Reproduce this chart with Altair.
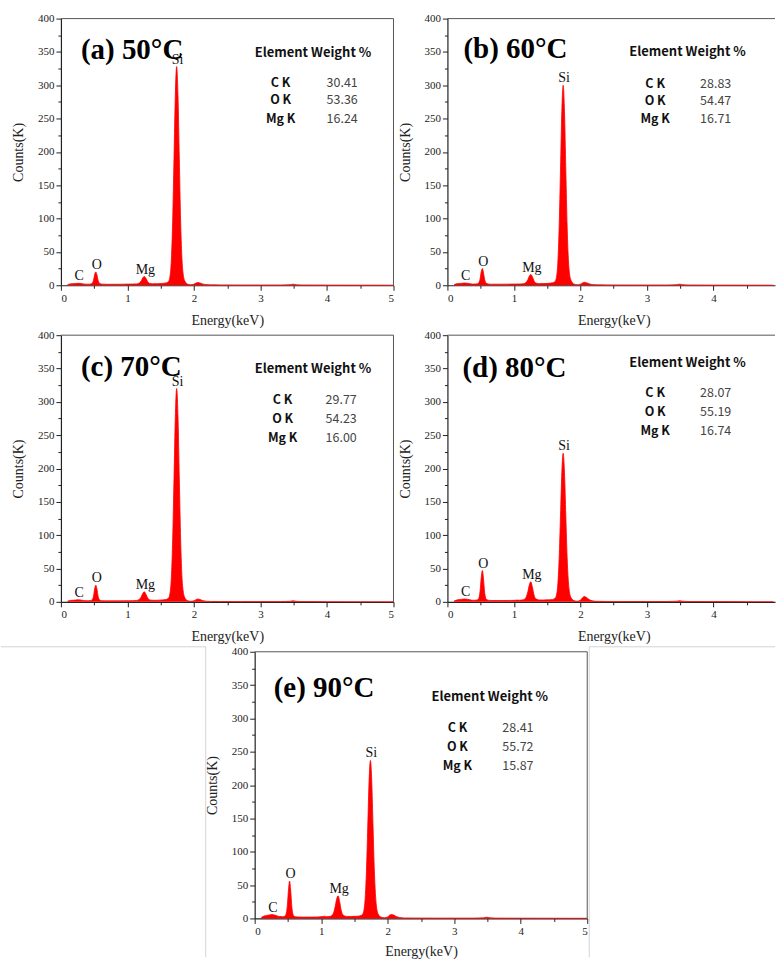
import altair as alt
import pandas as pd

# ---------------- data ----------------
energy = [0.10, 0.14, 0.18, 0.22, 0.26, 0.30, 0.34, 0.38, 0.42, 0.45,
          0.47, 0.49, 0.51, 0.525, 0.54, 0.56, 0.58, 0.61, 0.66, 0.75,
          0.85, 0.95, 1.02, 1.05, 1.08, 1.14, 1.18, 1.21, 1.23, 1.254,
          1.28, 1.30, 1.33, 1.38, 1.45, 1.52, 1.58, 1.62, 1.65, 1.68,
          1.70, 1.72, 1.74, 1.76, 1.78, 1.80, 1.83, 1.86, 1.90, 1.95,
          2.00, 2.03, 2.06, 2.09, 2.13, 2.18, 2.25, 2.40, 2.70, 3.00,
          3.30, 3.44, 3.49, 3.54, 3.62, 4.00, 4.50, 4.90, 5.00]

counts_a = [1.0, 2.0, 2.3, 2.6, 2.9, 2.6, 2.0, 1.6, 1.6, 2.0,
            3.0, 7.5, 17, 20, 16, 7, 3, 1.8, 1.5, 1.5,
            1.5, 1.6, 1.7, 1.8, 1.8, 2.0, 3.5, 7, 11, 13,
            10, 6, 3, 2.2, 2.4, 2.8, 3.5, 6, 22, 96,
            190, 285, 328, 285, 190, 96, 24, 7, 2, 0.8,
            1.5, 3.2, 4, 3.4, 2, 1, 0.6, 0.5, 0.4, 0.4,
            0.4, 0.8, 1.6, 0.8, 0.4, 0.3, 0.2, 0.15, 0.1]

counts_b = [1.0, 2.2, 2.6, 3.0, 3.3, 3.0, 2.3, 1.8, 1.8, 2.2,
            3.5, 9, 21, 25, 20, 8.5, 3.2, 1.9, 1.6, 1.6,
            1.6, 1.7, 1.8, 1.9, 1.9, 2.2, 4, 8.5, 13.5, 16,
            12, 7, 3.3, 2.4, 2.5, 2.9, 3.6, 6, 20, 88,
            173, 261, 300, 261, 173, 88, 22, 7, 2, 0.8,
            1.6, 3.5, 4.5, 3.8, 2.2, 1, 0.6, 0.5, 0.4, 0.4,
            0.4, 0.8, 1.6, 0.8, 0.4, 0.3, 0.2, 0.15, 0.1]

counts_c = [1.0, 2.1, 2.4, 2.7, 3.0, 2.7, 2.1, 1.7, 1.7, 2.1,
            3.3, 8.5, 21, 25, 20, 8, 3, 1.8, 1.5, 1.5,
            1.5, 1.6, 1.7, 1.8, 1.8, 2.1, 3.8, 8, 12.5, 15,
            11, 6.5, 3.2, 2.3, 2.4, 2.8, 3.5, 6, 21, 93,
            184, 278, 320, 278, 184, 93, 23, 7, 2, 0.8,
            1.5, 3.3, 4.2, 3.5, 2, 1, 0.6, 0.5, 0.4, 0.4,
            0.4, 0.8, 1.6, 0.8, 0.4, 0.3, 0.2, 0.15, 0.1]

counts_d = [1.2, 2.8, 3.4, 3.9, 4.3, 3.8, 3.0, 2.4, 2.4, 3.0,
            5, 15, 38, 47, 37, 14, 4.5, 2.4, 2.0, 2.0,
            2.0, 2.1, 2.3, 2.6, 2.4, 3.0, 6.5, 15.5, 25, 30,
            21, 11, 4.5, 2.8, 2.8, 3.0, 3.6, 5.5, 16, 66,
            129, 194, 223, 194, 129, 66, 18, 6, 2, 1,
            2.5, 6, 8, 6.5, 3.5, 1.5, 0.8, 0.6, 0.5, 0.5,
            0.5, 0.9, 1.6, 0.9, 0.5, 0.4, 0.3, 0.25, 0.2]

counts_e = [1.5, 3.5, 4.5, 5.2, 5.8, 5.0, 3.8, 2.8, 2.6, 3.3,
            6, 18, 45, 56, 44, 16, 5, 2.6, 2.1, 2.0,
            2.0, 2.2, 2.8, 3.4, 2.6, 3.2, 7, 17.5, 28, 34,
            24, 12.5, 5, 3.0, 3.0, 3.2, 3.8, 5.8, 17, 70,
            137, 206, 237, 206, 137, 70, 19, 6, 2, 1,
            2.2, 5, 6, 5, 2.8, 1.3, 0.7, 0.6, 0.5, 0.5,
            0.5, 0.9, 1.8, 0.9, 0.5, 0.4, 0.3, 0.25, 0.2]

panel_titles = ["(a) 50°C", "(b) 60°C", "(c) 70°C", "(d) 80°C", "(e) 90°C"]
table_header = "Element Weight %"
element_rows = ["C K", "O K", "Mg K"]
weights_a = ["30.41", "53.36", "16.24"]
weights_b = ["28.83", "54.47", "16.71"]
weights_c = ["29.77", "54.23", "16.00"]
weights_d = ["28.07", "55.19", "16.74"]
weights_e = ["28.41", "55.72", "15.87"]
peak_names = ["C", "O", "Mg", "Si"]
peak_energies = [0.26, 0.525, 1.254, 1.74]
x_ticks = [0, 1, 2, 3, 4, 5]
x_minor = [0.5, 1.5, 2.5, 3.5, 4.5]
y_ticks = [0, 50, 100, 150, 200, 250, 300, 350, 400]
y_minor = [25, 75, 125, 175, 225, 275, 325, 375]
x_title = "Energy(keV)"
y_title = "Counts(K)"

# ---------------- styles / layout ----------------
SERIF = "Liberation Serif, Times New Roman, serif"
SANS = "Noto Sans CJK SC, Noto Sans, sans-serif"
W = 333          # plot width of a full panel (0-5 keV)
W_CUT = 328      # right-column panels run past the page edge
H = 267
E_OFF = 194      # panel (e) sits this far right of the left column
PX_PER_KEV = W / 5.0
AX = "#222222"
FRAME = "#555555"
BORDER = "#d4d4d4"
RED = "#ff0000"

layout = {
    "a": dict(title=(20, 31), header=(194, 34), rows_x=220, vals_x=266, rows_y=[64, 82, 101], xt=35),
    "b": dict(title=(16, 30), header=(182, 33), rows_x=208, vals_x=253, rows_y=[65, 83, 101], xt=35),
    "c": dict(title=(20, 32), header=(194, 34), rows_x=222, vals_x=265, rows_y=[65, 84, 103], xt=35),
    "d": dict(title=(15, 33), header=(182, 28), rows_x=208, vals_x=253, rows_y=[58, 77, 96], xt=35),
    "e": dict(title=(19, 36), header=(177, 45), rows_x=203, vals_x=248, rows_y=[76, 95, 114], xt=33),
}


def one(text):
    return pd.DataFrame({"t": [text]})


def rule(**enc):
    color = enc.pop("color", FRAME)
    return alt.Chart(one("")).mark_rule(color=color, strokeWidth=1).encode(
        **{k: alt.value(v) for k, v in enc.items()})


def make_panel(key, counts, title, weights, width, off=0, extra=None):
    L = layout[key]
    xmax = width / PX_PER_KEV
    xs = alt.Scale(domain=[0, xmax], range=[off, off + width], nice=False, zero=False)
    ys = alt.Scale(domain=[0, 400], nice=False, zero=True)
    df = pd.DataFrame({"energy": energy, "counts": counts})
    df = df[df["energy"] <= xmax + 1e-9]

    major_x = alt.Axis(values=[v for v in x_ticks if v <= xmax + 1e-9], format="d",
                       orient="bottom", title=x_title, titleFont=SERIF, titleFontSize=14,
                       titleFontWeight="normal", titleColor=AX, titleX=off + W / 2,
                       titleY=L["xt"], titleBaseline="middle", titleAlign="center",
                       labelFont=SERIF, labelFontSize=11, labelColor=AX, labelPadding=2,
                       tickSize=5, tickColor=AX, tickWidth=1, domainColor=AX, domainWidth=1.2,
                       grid=False)
    major_y = alt.Axis(values=y_ticks, format="d", orient="left", offset=-off, title=y_title,
                       titleFont=SERIF, titleFontSize=14, titleFontWeight="normal",
                       titleColor=AX, titleX=-42, titleY=H / 2, titleAngle=270,
                       titleBaseline="middle", titleAlign="center",
                       labelFont=SERIF, labelFontSize=11, labelColor=AX, labelPadding=2,
                       tickSize=5, tickColor=AX, tickWidth=1, domainColor=AX, domainWidth=1.2,
                       grid=False)
    minor_x = alt.Axis(values=[v for v in x_minor if v <= xmax + 1e-9], orient="bottom",
                       labels=False, domain=False, title=None, tickSize=3, tickColor=AX,
                       grid=False)
    minor_y = alt.Axis(values=y_minor, orient="left", offset=-off, labels=False, domain=False,
                       title=None, tickSize=3, tickColor=AX, grid=False)

    area = alt.Chart(df).mark_area(color=RED, fill=RED, opacity=1, fillOpacity=1,
                                   interpolate="monotone",
                                   line=alt.LineConfig(color=RED, strokeWidth=0.8)).encode(
        x=alt.X("energy:Q", scale=xs, axis=major_x),
        y=alt.Y("counts:Q", scale=ys, axis=major_y),
    )
    minor = alt.Chart(df).mark_point(opacity=0, size=1).encode(
        x=alt.X("energy:Q", scale=xs, axis=minor_x),
        y=alt.Y("counts:Q", scale=ys, axis=minor_y),
    )

    # peak labels at the peak heights of this spectrum
    heights = [counts[energy.index(e)] for e in peak_energies]
    pk = pd.DataFrame({"name": peak_names, "e": peak_energies, "h": heights})
    peaks = alt.Chart(pk).mark_text(font=SERIF, fontSize=14, color="#111111",
                                    baseline="alphabetic", align="center", dy=-3, dx=1).encode(
        x=alt.X("e:Q", scale=xs, axis=None),
        y=alt.Y("h:Q", scale=ys, axis=None),
        text="name:N",
    )

    layers = [area, minor, peaks]
    layers.append(alt.Chart(one(title)).mark_text(
        font=SERIF, fontSize=29, fontWeight="bold", color="black",
        align="left", baseline="middle").encode(
        text="t:N", x=alt.value(off + L["title"][0]), y=alt.value(L["title"][1])))
    layers.append(alt.Chart(one(table_header)).mark_text(
        font=SANS, fontSize=13, fontWeight=600, color="#111111",
        align="left", baseline="middle").encode(
        text="t:N", x=alt.value(off + L["header"][0]), y=alt.value(L["header"][1])))
    for lab, val, yy in zip(element_rows, weights, L["rows_y"]):
        layers.append(alt.Chart(one(lab)).mark_text(
            font=SANS, fontSize=12.5, fontWeight=600, color="#111111",
            align="center", baseline="middle").encode(
            text="t:N", x=alt.value(off + L["rows_x"]), y=alt.value(yy)))
        layers.append(alt.Chart(one(val)).mark_text(
            font=SANS, fontSize=12.5, fontWeight="normal", color="#444444",
            align="left", baseline="middle").encode(
            text="t:N", x=alt.value(off + L["vals_x"]), y=alt.value(yy)))

    # frame: top and right edges of the plot box
    layers.append(rule(x=off, x2=off + width, y=0))
    if width == W:
        layers.append(rule(x=off + width, y=0, y2=H))
    if extra:
        layers.extend(extra)

    ch = alt.layer(*layers).resolve_axis(x="independent", y="independent").properties(
        width=W if off else width, height=H,
        view=alt.ViewBackground(stroke="transparent"))
    return ch


# invisible (white on white) anchor at the page's top-left corner
anchor = rule(x=-60, x2=-50, y=-17, color="white")

pa = make_panel("a", counts_a, panel_titles[0], weights_a, W, extra=[anchor])
pb = make_panel("b", counts_b, panel_titles[1], weights_b, W_CUT)
pc = make_panel("c", counts_c, panel_titles[2], weights_c, W)
pdd = make_panel("d", counts_d, panel_titles[3], weights_d, W_CUT)

# light borders of the picture cells around panel (e)
e_border = [
    rule(x=145, y=-5, y2=306, color=BORDER),
    rule(x=-60, x2=145, y=-5, color=BORDER),
    rule(x=E_OFF + 335, y=-5, y2=306, color=BORDER),
    rule(x=E_OFF + 335, x2=715, y=-5, color=BORDER),
]
pe = make_panel("e", counts_e, panel_titles[4], weights_e, W, off=E_OFF, extra=e_border)

chart = alt.concat(pa, pb, pc, pdd, pe, columns=2,
                   spacing={"row": 50, "column": 54}, bounds="flush").properties(
    padding={"left": 0, "top": 0, "right": 0, "bottom": 0},
    background="white",
)

chart.save("out.html", embed_options={"renderer": "svg", "actions": False})
